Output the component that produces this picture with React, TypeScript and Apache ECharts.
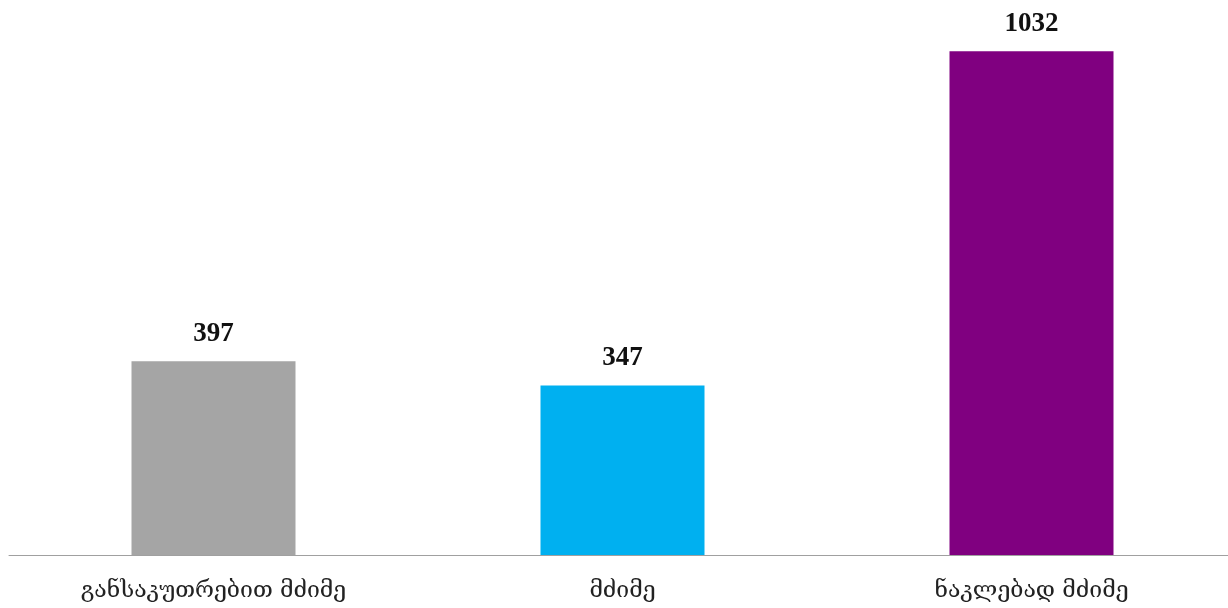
import React, { useEffect, useRef } from "react";
import * as echarts from "echarts";

const categories = ["განსაკუთრებით მძიმე", "მძიმე", "ნაკლებად მძიმე"];
const values = [397, 347, 1032];
const colors = ["#A5A5A5", "#00B0F0", "#800080"];

export default function App() {
  const ref = useRef<HTMLDivElement>(null);
  useEffect(() => {
    const chart = echarts.init(ref.current!, null, { renderer: "svg" });
    chart.setOption({
      animation: false,
      grid: { left: 9, width: 1227, top: 18, bottom: 53, containLabel: false },
      xAxis: {
        type: "category",
        data: categories,
        axisLine: { lineStyle: { color: "#A0A0A0", width: 1 } },
        axisTick: { show: false },
        axisLabel: {
          margin: 22,
          fontSize: 23,
          color: "#222",
          fontFamily: "DejaVu Serif",
        },
      },
      yAxis: {
        type: "value",
        min: 0,
        max: 1100,
        show: false,
        splitLine: { show: false },
      },
      series: [
        {
          type: "bar",
          barWidth: 164,
          data: values.map((v, i) => ({ value: v, itemStyle: { color: colors[i] } })),
          label: {
            show: true,
            position: "top",
            distance: 16,
            fontSize: 27,
            fontWeight: "bold",
            color: "#111",
            fontFamily: "Liberation Serif",
          },
        },
      ],
    });
    return () => chart.dispose();
  }, []);
  return (
    <div
      style={{ position: "fixed", left: 0, top: 0, width: 1228, height: 608, overflow: "hidden" }}
    >
      <div ref={ref} style={{ width: 1240, height: 608 }} />
    </div>
  );
}
